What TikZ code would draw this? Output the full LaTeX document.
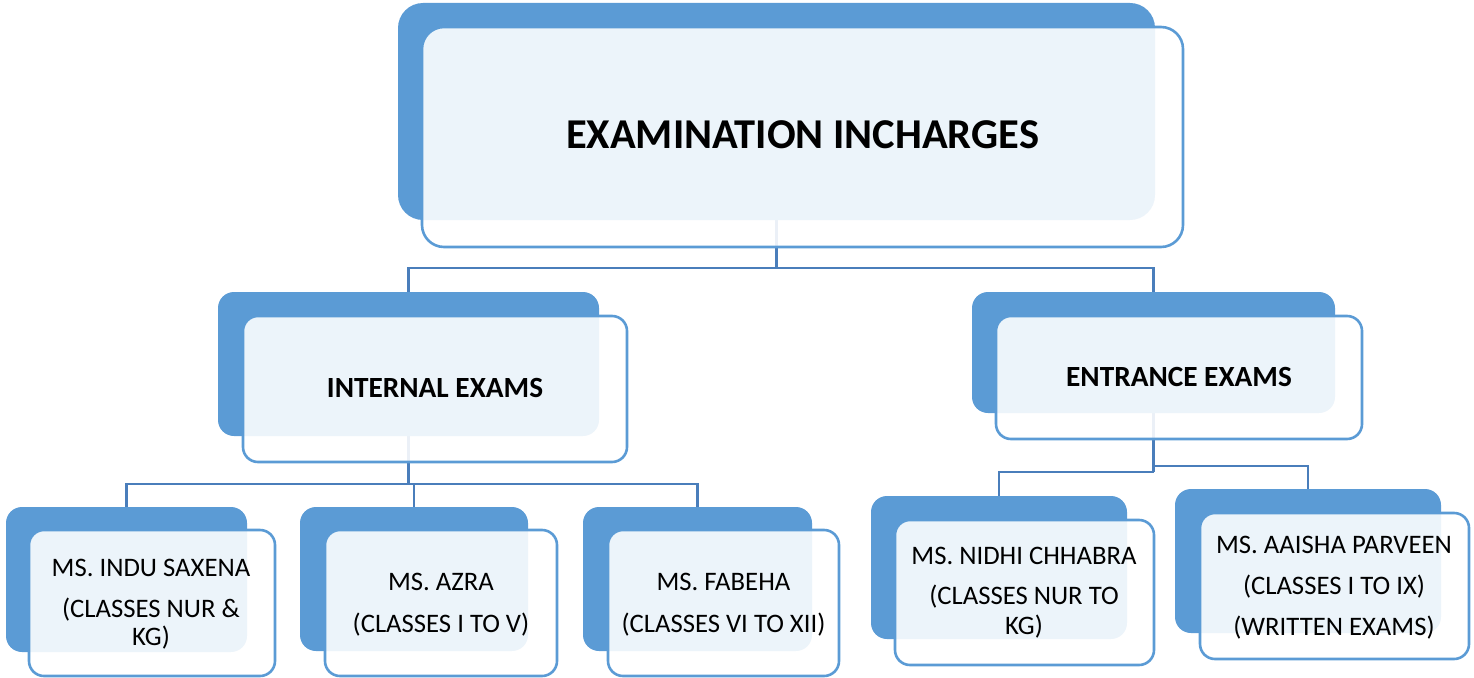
\documentclass[tikz,border=0pt]{standalone}
\usepackage{fontspec}
\setmainfont{Carlito}
\definecolor{accent}{RGB}{91,155,213}
\definecolor{connblue}{RGB}{74,126,187}
\pgfdeclarelayer{connlayer}
\pgfsetlayers{connlayer,main}
\tikzset{
  backbox/.style={rectangle, fill=accent, draw=none, inner sep=0pt, outer sep=0pt},
  frontbox/.style={rectangle, fill=white, fill opacity=0.89, draw=accent, line width=2.6pt, inner sep=0pt, outer sep=0pt},
  connector/.style={draw=connblue, line width=2.6pt},
  titletext/.style={anchor=base, inner sep=0pt, font=\fontsize{42.5}{50}\selectfont\bfseries},
  headtext/.style={anchor=base, inner sep=0pt, font=\fontsize{29.3}{35}\selectfont\bfseries},
  leaftext/.style={anchor=base, inner sep=0pt, font=\fontsize{26.7}{32}\selectfont},
}
\begin{document}
\begin{tikzpicture}[x=1pt,y=-1pt]
\useasboundingbox (0,0) rectangle (1474,677);

% back boxes
\node[backbox, rounded corners=25pt, minimum width=757pt, minimum height=217pt] (topB) at (776.5,111.5) {};
\node[backbox, rounded corners=16pt, minimum width=381pt, minimum height=144pt] (intB) at (408.5,364) {};
\node[backbox, rounded corners=16pt, minimum width=363pt, minimum height=121pt] (entB) at (1153.5,352.5) {};
\node[backbox, rounded corners=16pt, minimum width=241pt, minimum height=145pt] (induB) at (126.5,579.5) {};
\node[backbox, rounded corners=16pt, minimum width=228pt, minimum height=144pt] (azraB) at (414,579) {};
\node[backbox, rounded corners=16pt, minimum width=229pt, minimum height=144pt] (fabB) at (697.5,579) {};
\node[backbox, rounded corners=16pt, minimum width=256pt, minimum height=143pt] (nidB) at (999,567.5) {};
\node[backbox, rounded corners=16pt, minimum width=266pt, minimum height=144pt] (aaiB) at (1308,561) {};

% connectors (behind everything)
\begin{pgfonlayer}{connlayer}
\coordinate (j1) at (776.5,268);
\coordinate (j2) at (408.5,484);
\coordinate (j3) at (1153.5,472);
\coordinate (j4) at (1153.5,466);
\draw[connector] (topB.center) -- (j1);
\draw[connector] (intB.north) |- (j1) -| (entB.north);
\draw[connector] (intB.center) -- (j2);
\draw[connector] (j2) -| (induB.north);
\draw[connector] (j2) -| (azraB.north);
\draw[connector] (j2) -| (fabB.north);
\draw[connector] (entB.center) -- (j3);
\draw[connector] (j3) -| (nidB.north);
\draw[connector] (j4) -| (aaiB.north);
\end{pgfonlayer}

% front boxes
\node[frontbox, rounded corners=22pt, minimum width=761pt, minimum height=220pt] (topF) at (802.5,137) {};
\node[frontbox, rounded corners=15pt, minimum width=384pt, minimum height=146pt] (intF) at (435,389) {};
\node[frontbox, rounded corners=15pt, minimum width=366pt, minimum height=123pt] (entF) at (1179,377.5) {};
\node[frontbox, rounded corners=15pt, minimum width=246pt, minimum height=146pt] (induF) at (152,603) {};
\node[frontbox, rounded corners=15pt, minimum width=232pt, minimum height=146pt] (azraF) at (441,603) {};
\node[frontbox, rounded corners=15pt, minimum width=231pt, minimum height=146pt] (fabF) at (723.5,603) {};
\node[frontbox, rounded corners=15pt, minimum width=259pt, minimum height=145pt] (nidF) at (1024.5,592.5) {};
\node[frontbox, rounded corners=15pt, minimum width=269pt, minimum height=146pt] (aaiF) at (1334.5,586) {};

% texts
\node[titletext] (tTop) at (802.5,148) {EXAMINATION INCHARGES};
\node[headtext] (tInt) at (435,397) {INTERNAL EXAMS};
\node[headtext] (tEnt) at (1179,386) {ENTRANCE EXAMS};

\node[leaftext] (tIndu1) at (151,576) {MS. INDU SAXENA};
\node[leaftext] (tIndu2) at (151,617) {(CLASSES NUR \&};
\node[leaftext] (tIndu3) at (151,645) {KG)};

\node[leaftext] (tAzra1) at (441,590) {MS. AZRA};
\node[leaftext] (tAzra2) at (441,632) {(CLASSES I TO V)};

\node[leaftext] (tFab1) at (723.5,590) {MS. FABEHA};
\node[leaftext] (tFab2) at (723.5,632) {(CLASSES VI TO XII)};

\node[leaftext] (tNid1) at (1024,564) {MS. NIDHI CHHABRA};
\node[leaftext] (tNid2) at (1024,604) {(CLASSES NUR TO};
\node[leaftext] (tNid3) at (1024,634) {KG)};

\node[leaftext] (tAai1) at (1334,553) {MS. AAISHA PARVEEN};
\node[leaftext] (tAai2) at (1334,594) {(CLASSES I TO IX)};
\node[leaftext] (tAai3) at (1334,635) {(WRITTEN EXAMS)};
\end{tikzpicture}
\end{document}
